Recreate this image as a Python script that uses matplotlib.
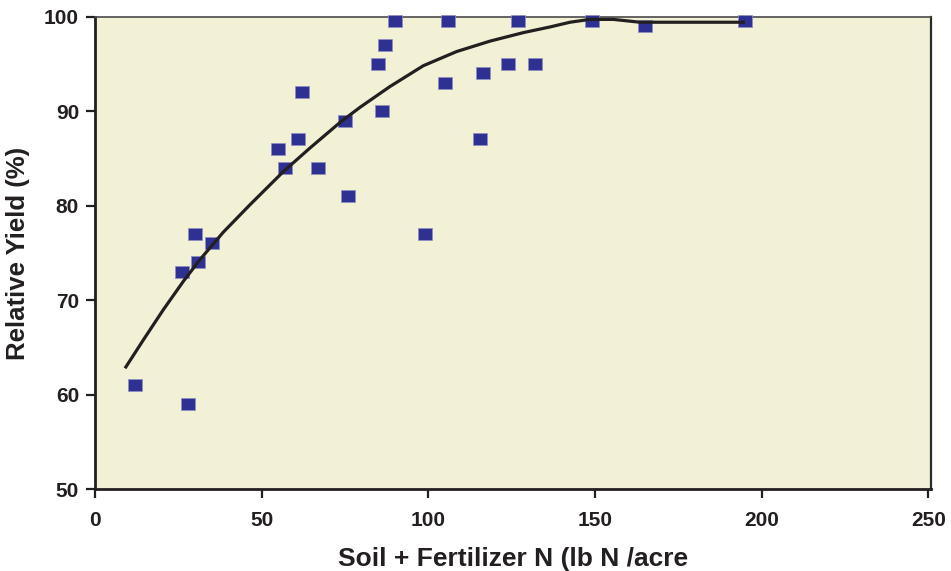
import matplotlib
matplotlib.use("Agg")
import matplotlib.pyplot as plt

# observed data points (Soil + Fertilizer N, relative yield)
n_rate = [12, 28, 26, 30, 31, 35, 55, 57, 61, 62, 67, 75, 76, 85, 86, 87, 90,
          99, 105, 106, 115.5, 116.5, 124, 127, 132, 149, 165, 195]
rel_yield = [61, 59, 73, 77, 74, 76, 86, 84, 87, 92, 84, 89, 81, 95, 90, 97, 99.5,
             77, 93, 99.5, 87, 94, 95, 99.5, 95, 99.5, 99, 99.5]

# fitted response curve
curve_x = [9, 14.5, 20.5, 26.5, 31.5, 38.5, 46.5, 56.5, 64.5, 73.5, 79.5,
           88.5, 98.5, 108.5, 118.5, 128.5, 136.5, 142.5, 148.5, 155.5,
           163.5, 195]
curve_y = [62.8, 65.8, 69.0, 72.0, 74.3, 77.2, 80.1, 83.6, 86.1, 88.8, 90.4,
           92.6, 94.8, 96.3, 97.4, 98.3, 98.9, 99.4, 99.7, 99.7,
           99.4, 99.4]

x_ticks = [0, 50, 100, 150, 200, 250]
y_ticks = [50, 60, 70, 80, 90, 100]

ink = '#231F20'
plt.rcParams['font.family'] = ['Liberation Sans', 'DejaVu Sans']
plt.rcParams['font.weight'] = 'bold'

fig = plt.figure(figsize=(9.51, 5.71), dpi=100)
ax = fig.add_axes([0.0999, 0.143, 0.879, 0.828])
ax.set_facecolor('#F2F1D6')

# slightly wide square marker
rect = [(-1, -0.85), (1, -0.85), (1, 0.85), (-1, 0.85), (-1, -0.85)]
ax.plot(n_rate, rel_yield, linestyle='none', marker=rect, markersize=10.5,
        markerfacecolor='#2E3192', markeredgecolor='#8E8FC4',
        markeredgewidth=0.5, zorder=3, clip_on=False)
ax.plot(curve_x, curve_y, color=ink, linewidth=2.3, zorder=4,
        solid_capstyle='butt', solid_joinstyle='round', clip_on=False)

ax.set_xlim(0, 250.8)
ax.set_ylim(50, 100)
ax.set_xticks(x_ticks)
ax.set_yticks(y_ticks)
ax.tick_params(axis='both', direction='out', length=6.5, width=1.6,
               colors=ink, labelsize=15, pad=5)
ax.tick_params(axis='x', pad=9)

for side in ['left', 'bottom']:
    ax.spines[side].set_linewidth(2.0)
    ax.spines[side].set_color(ink)
ax.spines['right'].set_linewidth(1.6)
ax.spines['right'].set_color('#2a2a2a')
ax.spines['top'].set_linewidth(1.2)
ax.spines['top'].set_color('#4a4a4a')

ax.set_xlabel('Soil + Fertilizer N (lb N /acre', fontsize=19,
              fontweight='bold', color=ink, labelpad=12)
ax.set_ylabel('Relative Yield (%)', fontsize=18.5, fontweight='bold',
              color=ink, labelpad=10)

fig.savefig('out.png', dpi=100)
